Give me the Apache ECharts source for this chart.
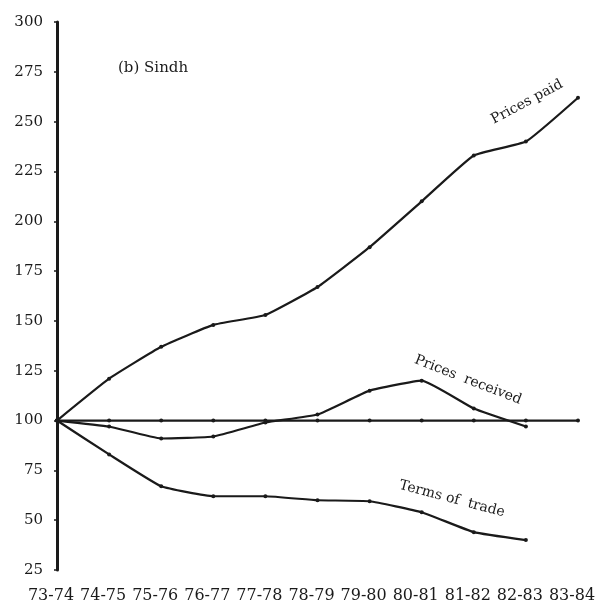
<!DOCTYPE html>
<html>
<head>
<meta charset="utf-8">
<script src="https://cdn.jsdelivr.net/npm/echarts@6/dist/echarts.min.js"></script>
<style>
  html, body { margin: 0; padding: 0; background: #ffffff; }
  #main { width: 611px; height: 610px; }
</style>
</head>
<body>
<div id="main"></div>
<script>
// years along the bottom
var years = ['73-74', '74-75', '75-76', '76-77', '77-78', '78-79', '79-80', '80-81', '81-82', '82-83', '83-84'];

// index values, 1973-74 = 100
var pricesPaid = [100, 121, 137, 148, 153, 167, 187, 210, 233, 240, 262];
var pricesReceived = [100, 97, 91, 92, 99, 103, 115, 120, 106, 97, null];
var termsOfTrade = [100, 83, 67, 62, 62, 60, 59.5, 54, 44, 40, null];
var baseLine = [100, 100, 100, 100, 100, 100, 100, 100, 100, 100, 100];

var yMin = 25, yMax = 300, yStep = 25;

var ink = '#1a1a1a';
var serif = 'DejaVu Serif';

var chart = echarts.init(document.getElementById('main'), null, { renderer: 'canvas' });

function lineSeries(name, data) {
    return {
        name: name,
        type: 'line',
        data: data,
        smooth: 0.12,
        symbol: 'circle',
        symbolSize: 4,
        showSymbol: true,
        connectNulls: false,
        lineStyle: { color: ink, width: 2.2 },
        itemStyle: { color: ink },
        emphasis: { disabled: true }
    };
}

var option = {
    backgroundColor: '#ffffff',
    animation: false,
    grid: {
        left: 57,
        right: 33,
        top: 22,
        bottom: 40
    },
    xAxis: {
        type: 'category',
        boundaryGap: false,
        data: years,
        axisLine: { show: false },
        axisTick: { show: false },
        axisLabel: {
            interval: 0,
            margin: 18,
            color: ink,
            fontFamily: serif,
            fontSize: 16,
            padding: [0, 12, 0, 0]
        },
        splitLine: { show: false }
    },
    yAxis: {
        type: 'value',
        min: yMin,
        max: yMax,
        interval: yStep,
        axisLine: { show: true, lineStyle: { color: ink, width: 3 } },
        axisTick: { show: true, length: 3, lineStyle: { color: ink, width: 1.5 } },
        axisLabel: {
            margin: 14,
            color: ink,
            fontFamily: serif,
            fontSize: 15
        },
        splitLine: { show: false }
    },
    series: [
        lineSeries('Base', baseLine),
        lineSeries('Prices paid', pricesPaid),
        lineSeries('Prices received', pricesReceived),
        lineSeries('Terms of trade', termsOfTrade)
    ],
    graphic: [
        {
            type: 'text', x: 118, y: 61,
            style: { text: '(b) Sindh', fill: ink, font: '15px "DejaVu Serif"' }
        },
        {
            type: 'text', x: 527, y: 102, rotation: 0.49,
            style: { text: 'Prices paid', fill: ink, font: '14px "DejaVu Serif"', align: 'center', verticalAlign: 'middle' }
        },
        {
            type: 'text', x: 468, y: 380, rotation: -0.37,
            style: { text: 'Prices  received', fill: ink, font: '14px "DejaVu Serif"', align: 'center', verticalAlign: 'middle' }
        },
        {
            type: 'text', x: 452, y: 499, rotation: -0.26,
            style: { text: 'Terms of  trade', fill: ink, font: '14px "DejaVu Serif"', align: 'center', verticalAlign: 'middle' }
        }
    ]
};

chart.setOption(option);
</script>
</body>
</html>
